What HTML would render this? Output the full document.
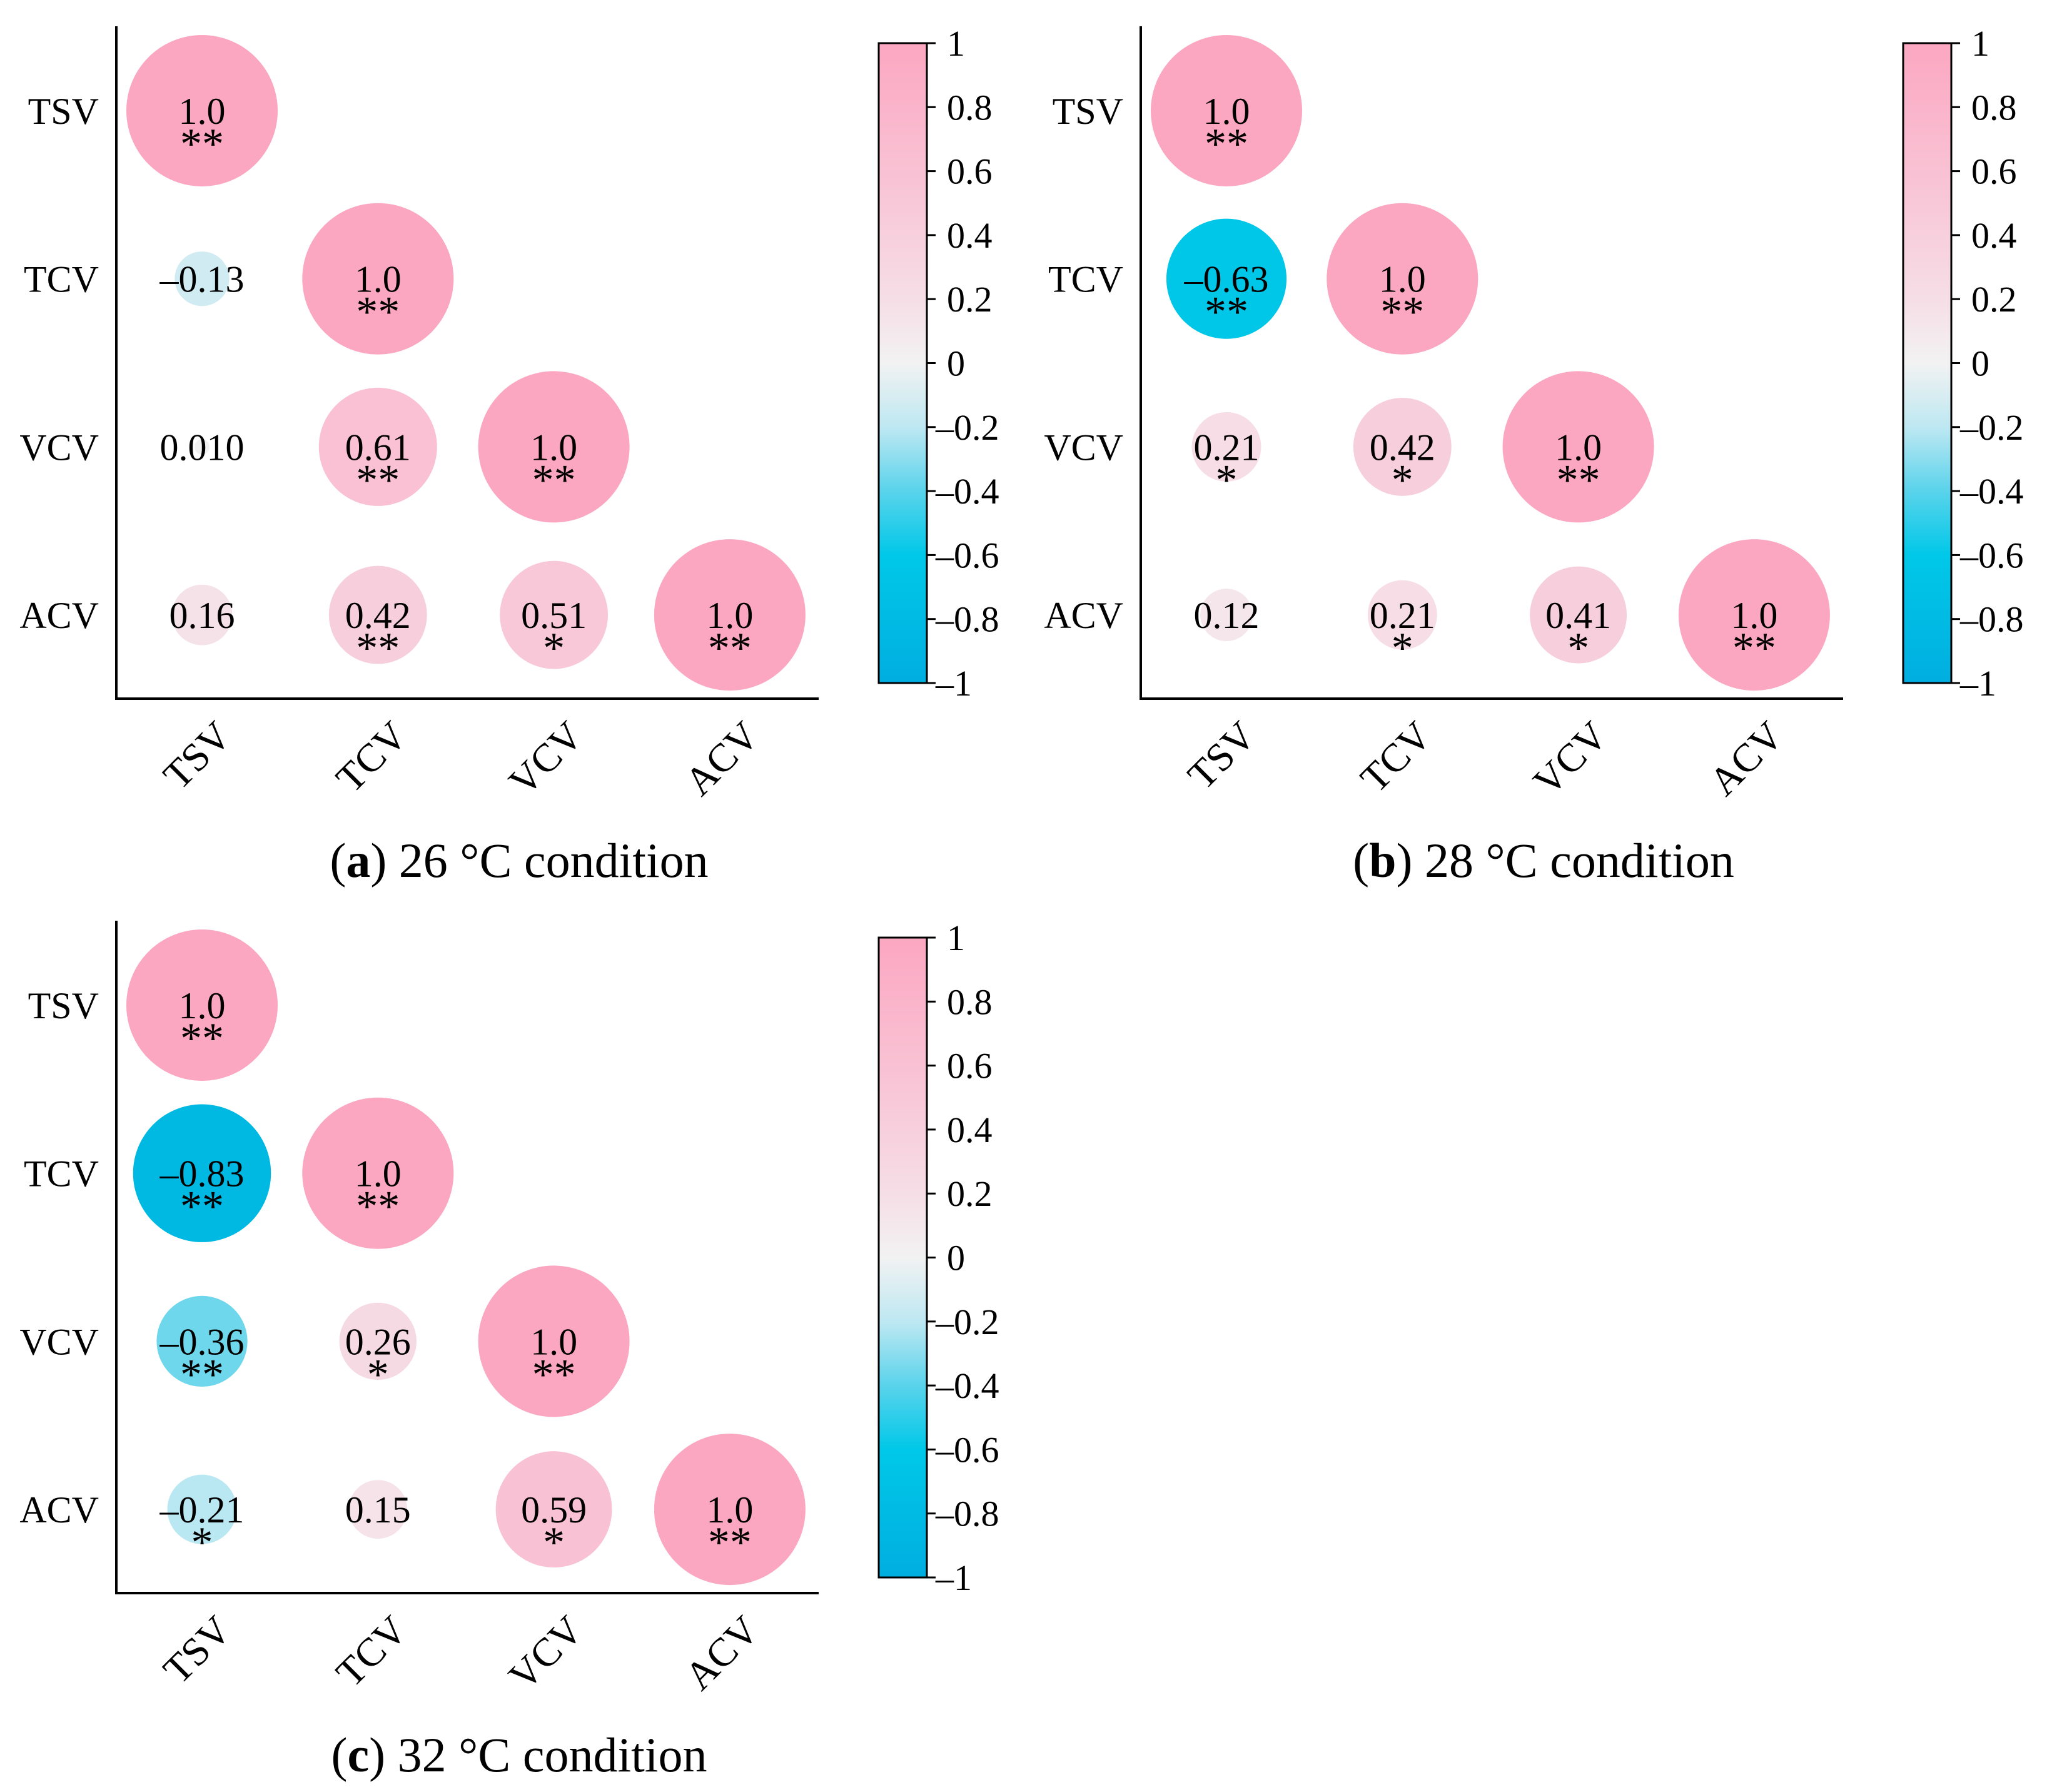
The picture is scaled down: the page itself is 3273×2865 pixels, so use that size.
<!DOCTYPE html>
<html><head><meta charset="utf-8"><style>
html,body{margin:0;padding:0;background:#fff;}
svg{display:block;font-family:"Liberation Serif","DejaVu Serif",serif;}
</style></head><body>
<svg id="chart" width="3273" height="2865" viewBox="0 0 3273 2865" xmlns="http://www.w3.org/2000/svg"></svg>
<script>
const vars = ["TSV","TCV","VCV","ACV"];
const captionsCond = ["26 °C condition","28 °C condition","32 °C condition"];
const captionLetters = ["a","b","c"];
const valsA = [[1.0],[-0.13,1.0],[0.010,0.61,1.0],[0.16,0.42,0.51,1.0]];
const labA  = [["1.0"],["–0.13","1.0"],["0.010","0.61","1.0"],["0.16","0.42","0.51","1.0"]];
const sigA  = [["**"],["","**"],["","**","**"],["","**","*","**"]];
const valsB = [[1.0],[-0.63,1.0],[0.21,0.42,1.0],[0.12,0.21,0.41,1.0]];
const labB  = [["1.0"],["–0.63","1.0"],["0.21","0.42","1.0"],["0.12","0.21","0.41","1.0"]];
const sigB  = [["**"],["**","**"],["*","*","**"],["","*","*","**"]];
const valsC = [[1.0],[-0.83,1.0],[-0.36,0.26,1.0],[-0.21,0.15,0.59,1.0]];
const labC  = [["1.0"],["–0.83","1.0"],["–0.36","0.26","1.0"],["–0.21","0.15","0.59","1.0"]];
const sigC  = [["**"],["**","**"],["**","*","**"],["*","","*","**"]];
const cbTicks = [1,0.8,0.6,0.4,0.2,0,-0.2,-0.4,-0.6,-0.8,-1];
const cbTickLabels = ["1","0.8","0.6","0.4","0.2","0","–0.2","–0.4","–0.6","–0.8","–1"];

const NS="http://www.w3.org/2000/svg";
const svg=document.getElementById('chart');
function mk(tag,attrs,parent){const e=document.createElementNS(NS,tag);for(const k in attrs)e.setAttribute(k,attrs[k]);(parent||svg).appendChild(e);return e;}

const stops=[[-1,[0,174,224]],[-0.6,[0,200,232]],[-0.4,[90,211,235]],[-0.2,[190,232,242]],[0,[242,242,242]],[0.2,[246,222,230]],[0.5,[248,200,216]],[1,[252,167,194]]];
function color(v){for(let i=0;i<stops.length-1;i++){const a=stops[i],b=stops[i+1];if(v<=b[0]){const t=(v-a[0])/(b[0]-a[0]);const c=a[1].map((x,j)=>Math.round(x+(b[1][j]-x)*t));return `rgb(${c.join(',')})`;}}return 'rgb(252,167,194)';}

const defs=mk('defs',{});
const grad=mk('linearGradient',{id:'cbgrad',x1:0,y1:0,x2:0,y2:1},defs);
stops.slice().reverse().forEach(s=>{mk('stop',{offset:((1-s[0])/2*100)+'%','stop-color':`rgb(${s[1].join(',')})`},grad);});

const panels=[{v:valsA,l:labA,s:sigA,ox:0,oy:0},{v:valsB,l:labB,s:sigB,ox:1638,oy:0},{v:valsC,l:labC,s:sigC,ox:0,oy:1430}];
const colX=i=>323+i*281.3, rowY=i=>177+i*268.7, RMAX=121;
const cbTop=69, cbBot=1092, cbL=1405, cbR=1482;
const cbY=v=>cbTop+(1-v)/2*(cbBot-cbTop);

panels.forEach((p,pi)=>{
  const g=mk('g',{transform:`translate(${p.ox},${p.oy})`});
  
  
  p.v.forEach((row,ri)=>row.forEach((val,ci)=>{
    const cg=mk('g',{},g);
    
    
    mk('circle',{cx:colX(ci),cy:rowY(ri),r:RMAX*Math.sqrt(Math.abs(val)),fill:color(val)},cg);
    const t=mk('text',{x:colX(ci),y:rowY(ri)+21,'text-anchor':'middle','font-size':60},cg);
    t.textContent=p.l[ri][ci];
    if(p.s[ri][ci]){const s=mk('text',{x:colX(ci),y:rowY(ri)+76,'text-anchor':'middle','font-size':70},cg);s.textContent=p.s[ri][ci];}
  }));
  const ax=mk('path',{d:'M186 42 V1117 H1309',fill:'none',stroke:'#000','stroke-width':4},g);
  
  
  vars.forEach((v,i)=>{
    const t=mk('text',{x:158,y:rowY(i)+21,'text-anchor':'end','font-size':60},g);
    t.textContent=v;
    
    
    const xt=mk('text',{x:0,y:0,'text-anchor':'end','font-size':64,transform:`translate(${colX(i)+50},${1180}) rotate(-45)`},g);
    xt.textContent=v;
    
    
  });
  const cb=mk('rect',{x:cbL,y:cbTop,width:cbR-cbL,height:cbBot-cbTop,fill:'url(#cbgrad)',stroke:'#000','stroke-width':3},g);
  
  
  cbTicks.forEach((tv,i)=>{
    mk('line',{x1:cbR,x2:cbR+14,y1:cbY(tv),y2:cbY(tv),stroke:'#000','stroke-width':3},g);
    const t=mk('text',{x:cbR+(tv<0?14:32),y:cbY(tv)+20,'font-size':58},g);
    t.textContent=cbTickLabels[i];
    
    
  });
  const cap=mk('text',{x:830,y:1402,'text-anchor':'middle','font-size':78},g);
  
  
  const t1=mk('tspan',{},cap);t1.textContent='(';
  const t2=mk('tspan',{'font-weight':'bold'},cap);t2.textContent=captionLetters[pi];
  const t3=mk('tspan',{},cap);t3.textContent=') '+captionsCond[pi];
});
</script>
</body></html>
